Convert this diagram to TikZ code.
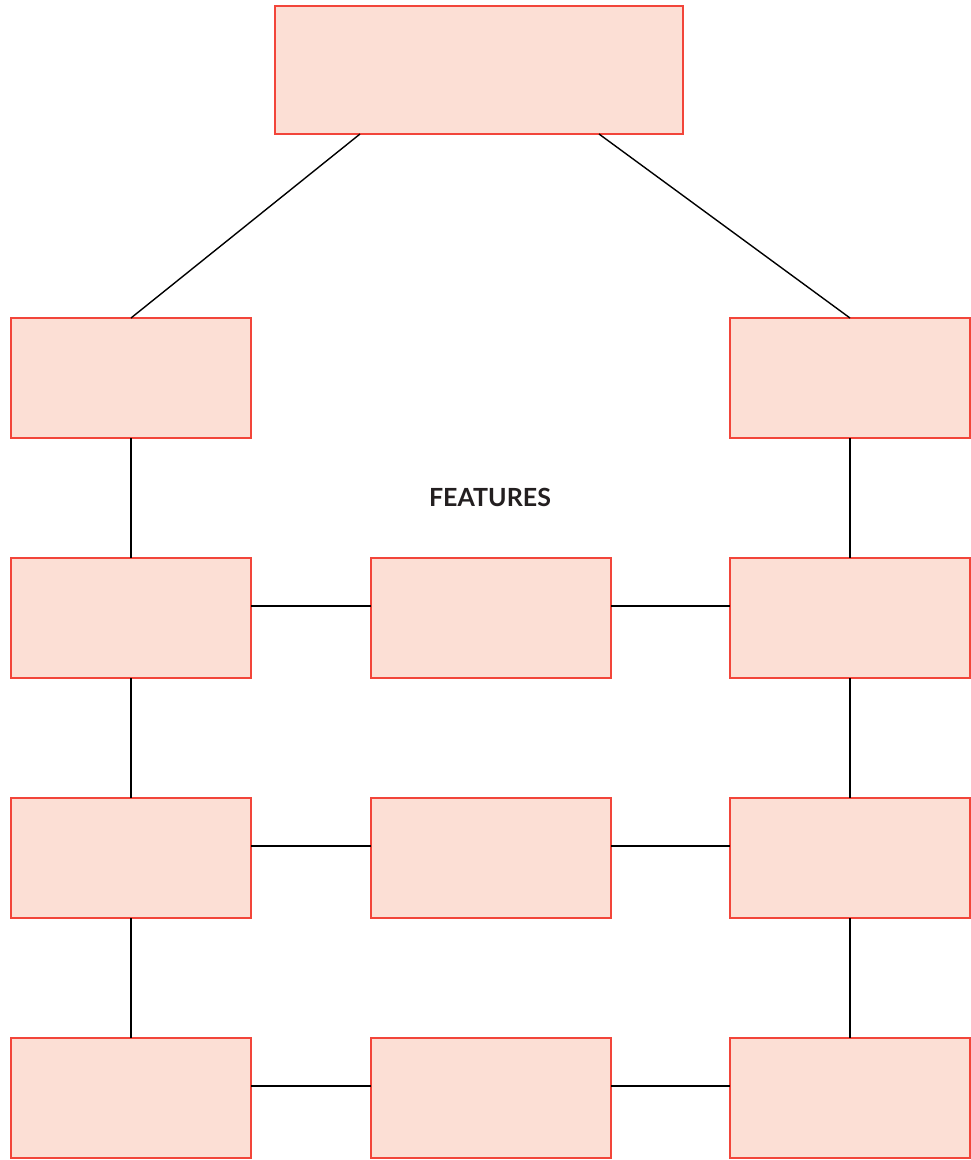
\documentclass[tikz,border=0pt]{standalone}
\usepackage{fontspec}
\newfontfamily\labelfont{Lato}
\definecolor{boxfill}{HTML}{FCDFD5}
\definecolor{boxline}{HTML}{F2453A}
\definecolor{txt}{HTML}{231F20}
\begin{document}
\begin{tikzpicture}[x=1pt,y=-1pt,
  cell/.style={draw=boxline,fill=boxfill,line width=2pt,minimum width=240pt,minimum height=120pt,inner sep=0pt,outer sep=0pt},
  topcell/.style={cell,minimum width=408pt,minimum height=128pt},
  link/.style={draw=black,line width=1.4pt}]
\useasboundingbox (0,0) rectangle (971,1160);
\node[topcell] (top) at (479,70) {};
\node[cell] (l1) at (131,378) {};
\node[cell] (r1) at (850,378) {};
\node[cell] (l2) at (131,618) {};
\node[cell] (m2) at (491,618) {};
\node[cell] (r2) at (850,618) {};
\node[cell] (l3) at (131,858) {};
\node[cell] (m3) at (491,858) {};
\node[cell] (r3) at (850,858) {};
\node[cell] (l4) at (131,1098) {};
\node[cell] (m4) at (491,1098) {};
\node[cell] (r4) at (850,1098) {};
\node[font=\labelfont\bfseries\fontsize{25}{30}\selectfont,text=txt] (feat) at (490,497) {FEATURES};
\coordinate (tl) at (360,134);
\coordinate (tr) at (599,134);
\draw[link] (tl) -- (l1.north);
\draw[link] (tr) -- (r1.north);
\draw[link] (l1) -- (l2);
\draw[link] (l2) -- (l3);
\draw[link] (l3) -- (l4);
\draw[link] (r1) -- (r2);
\draw[link] (r2) -- (r3);
\draw[link] (r3) -- (r4);
\draw[link] ([yshift=12pt]l2.east) -- ([yshift=12pt]m2.west);
\draw[link] ([yshift=12pt]m2.east) -- ([yshift=12pt]r2.west);
\draw[link] ([yshift=12pt]l3.east) -- ([yshift=12pt]m3.west);
\draw[link] ([yshift=12pt]m3.east) -- ([yshift=12pt]r3.west);
\draw[link] ([yshift=12pt]l4.east) -- ([yshift=12pt]m4.west);
\draw[link] ([yshift=12pt]m4.east) -- ([yshift=12pt]r4.west);
\end{tikzpicture}
\end{document}
